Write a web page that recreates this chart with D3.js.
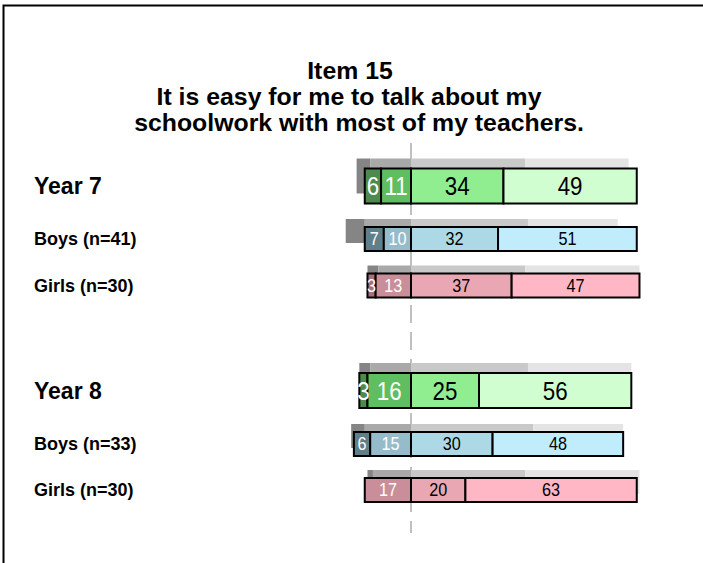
<!DOCTYPE html>
<html lang="en">
<head>
    <meta charset="UTF-8">
    <title>Item 15</title>
    <script src="https://cdnjs.cloudflare.com/ajax/libs/d3/7.8.5/d3.min.js"></script>
    <style>
        body {
            margin: 0;
            background: #fff;
            font-family: "Liberation Sans", Arial, sans-serif;
        }
    </style>
</head>
<body>
    <div id="chart"></div>
    <script>
        // Chart data
        const titleLines = ["Item 15", "It is easy for me to talk about my", "schoolwork with most of my teachers."];
        const rowLabels = ["Year 7", "Boys (n=41)", "Girls (n=30)", "Year 8", "Boys (n=33)", "Girls (n=30)"];
        const rowGroups = ["year", "boys", "girls", "year", "boys", "girls"];
        // strongly disagree, disagree, agree, strongly agree (%)
        const rowValues = [
            [6, 11, 34, 49],
            [7, 10, 32, 51],
            [3, 13, 37, 47],
            [3, 16, 25, 56],
            [6, 15, 30, 48],
            [0, 17, 20, 63]
        ];
        // comparison values drawn as grey bars behind
        const compareValues = [
            [5, 15, 42, 38],
            [7, 17, 43, 33],
            [4, 12, 42, 42],
            [4, 15, 43, 38],
            [5, 17, 45, 33],
            [2, 14, 42, 42]
        ];

        const palette = {
            year: ["#4e8a4e", "#5fbe5f", "#90ee90", "#d0fed0"],
            boys: ["#5f7f8b", "#96bccc", "#add8e6", "#c0ecfc"],
            girls: ["#a8707c", "#c98e99", "#e9a6b3", "#ffb6c5"],
            grey: ["#858585", "#a9a9a9", "#c9c9c9", "#e4e4e4"]
        };

        const width = 703, height = 563;
        const center = 411, pxPerPct = 2.72;
        const rowCenters = [186, 239, 285.5, 390.5, 444, 490];

        const svg = d3.select("#chart").append("svg")
            .attr("width", width)
            .attr("height", height);

        // frame
        svg.append("rect")
            .attr("x", 3.5).attr("y", 5.5)
            .attr("width", 760).attr("height", 640)
            .attr("fill", "none")
            .attr("stroke", "#000")
            .attr("stroke-width", 2);

        // title (slightly widened glyphs like the original)
        const titleX = [350, 349, 359];
        const titleY = [79, 105, 131];
        svg.selectAll(".title")
            .data(titleLines)
            .enter().append("text")
            .attr("class", "title")
            .attr("transform", (d, i) => `translate(${titleX[i]},${titleY[i]}) scale(1.08,1)`)
            .attr("text-anchor", "middle")
            .attr("font-weight", "bold")
            .attr("font-size", 23)
            .text(d => d);

        const x = d3.scaleLinear()
            .domain([-30, 100])
            .range([center - 30 * pxPerPct, center + 100 * pxPerPct]);

        // zero line
        svg.append("line")
            .attr("x1", x(0)).attr("x2", x(0))
            .attr("y1", 143).attr("y2", 533)
            .attr("stroke", "#c0c0c0")
            .attr("stroke-width", 2)
            .attr("stroke-dasharray", "18,9");

        // turn a row of values into segments starting at the left of zero
        function segments(vals) {
            let start = -(vals[0] + vals[1]);
            return vals.map((v, k) => {
                const s = { k: k, v: v, x0: start, x1: start + v };
                start += v;
                return s;
            });
        }

        rowLabels.forEach((label, i) => {
            const isYear = rowGroups[i] === "year";
            const h = isYear ? 35 : 24;
            const shift = isYear ? 10 : 8;
            const y0 = rowCenters[i] - h / 2;
            const g = svg.append("g");

            // row label
            g.append("text")
                .attr("x", 34)
                .attr("y", rowCenters[i])
                .attr("dy", "0.36em")
                .attr("font-weight", "bold")
                .attr("font-size", isYear ? 23 : 18)
                .text(label);

            // grey comparison bar
            g.selectAll(".cmp")
                .data(segments(compareValues[i]))
                .enter().append("rect")
                .attr("x", d => x(d.x0))
                .attr("y", y0 - shift)
                .attr("width", d => x(d.x1) - x(d.x0))
                .attr("height", h)
                .attr("fill", d => palette.grey[d.k]);

            const segs = segments(rowValues[i]).filter(d => d.v > 0);

            g.selectAll(".seg")
                .data(segs)
                .enter().append("rect")
                .attr("x", d => x(d.x0))
                .attr("y", y0)
                .attr("width", d => x(d.x1) - x(d.x0))
                .attr("height", h)
                .attr("fill", d => palette[rowGroups[i]][d.k])
                .attr("stroke", "#000")
                .attr("stroke-width", 2);

            // value labels, a bit condensed
            g.selectAll(".lbl")
                .data(segs)
                .enter().append("text")
                .attr("transform", d => `translate(${(x(d.x0) + x(d.x1)) / 2},${rowCenters[i]}) scale(${isYear ? 0.86 : 0.9},1)`)
                .attr("dy", "0.36em")
                .attr("text-anchor", "middle")
                .attr("font-size", isYear ? 26 : 18)
                .attr("fill", d => d.k < 2 ? "#fff" : "#000")
                .text(d => d.v);
        });
    </script>
</body>
</html>
